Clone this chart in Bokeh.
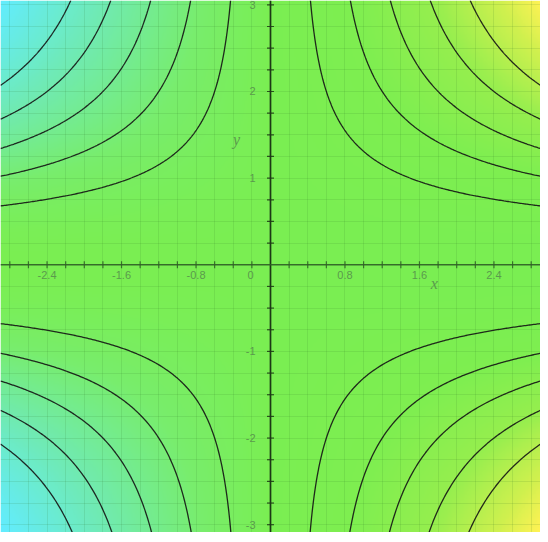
import numpy as np
from bokeh.plotting import figure
from bokeh.models import Span, SingleIntervalTicker, LinearColorMapper, Grid, Label
from bokeh.embed import file_html
from bokeh.resources import INLINE
from bokeh.core.properties import value

# ---- data ----
x_limits = [-2.9, 2.9]
y_limits = [-3.09, 3.05]
shape_a = 4.0                      # f(x, y) = x*y^2/(a + y^2)
contour_levels = [-1.5, -1.2, -0.9, -0.6, -0.3, 0.3, 0.6, 0.9, 1.2, 1.5]
x_tick_values = [-2.4, -1.6, -0.8, 0.8, 1.6, 2.4]
x_tick_labels = ["-2.4", "-1.6", "-0.8", "0.8", "1.6", "2.4"]
y_tick_values = [-3, -2, -1, 1, 2, 3]
y_tick_labels = ["-3", "-2", "-1", "1", "2", "3"]
x_minor_step = 0.2
y_minor_step = 0.25
color_stops = [-1.0, -0.6, -0.25, 0.0, 0.3, 0.6, 0.85, 1.0]
color_rgb = [(98, 236, 255), (112, 234, 176), (120, 237, 108), (122, 238, 82),
             (126, 238, 80), (150, 238, 78), (208, 240, 78), (255, 242, 84)]

# ---- field ----
nx, ny = 400, 420
xs = np.linspace(x_limits[0], x_limits[1], nx)
ys = np.linspace(y_limits[0], y_limits[1], ny)
X, Y = np.meshgrid(xs, ys)
Z = X * Y**2 / (shape_a + Y**2)
zmax = float(np.abs(Z).max())

# palette
t = np.linspace(-1, 1, 256)
r = np.interp(t, color_stops, [c[0] for c in color_rgb])
g = np.interp(t, color_stops, [c[1] for c in color_rgb])
b = np.interp(t, color_stops, [c[2] for c in color_rgb])
palette = ["#%02x%02x%02x" % (int(round(a)), int(round(bb)), int(round(c))) for a, bb, c in zip(r, g, b)]
mapper = LinearColorMapper(palette=palette, low=-zmax, high=zmax)

p = figure(width=540, height=532, x_range=tuple(x_limits), y_range=tuple(y_limits),
           x_axis_type=None, y_axis_type=None, toolbar_location=None,
           output_backend="svg", min_border=0)
p.outline_line_color = None

img = p.image(image=[Z], x=x_limits[0], y=y_limits[0], dw=x_limits[1] - x_limits[0],
              dh=y_limits[1] - y_limits[0], color_mapper=mapper)
img.level = "image"

# grid
gx = Grid(dimension=0, ticker=SingleIntervalTicker(interval=x_minor_step),
          grid_line_color="#2a6a20", grid_line_alpha=0.12, grid_line_width=1)
gy = Grid(dimension=1, ticker=SingleIntervalTicker(interval=y_minor_step),
          grid_line_color="#2a6a20", grid_line_alpha=0.12, grid_line_width=1)
p.add_layout(gx)
p.add_layout(gy)

# contours
p.contour(x=xs, y=ys, z=Z, levels=contour_levels, line_color="#141414", line_width=1.3, line_alpha=0.9)

# axes lines
p.add_layout(Span(location=0, dimension="height", line_color="#1c3815", line_width=1.7))
p.add_layout(Span(location=0, dimension="width", line_color="#2f5f26", line_width=1.5, line_alpha=0.9))

# ticks
xt = np.round(np.arange(-2.8, 2.81, x_minor_step), 3)
xt = xt[np.abs(xt) > 1e-9]
yt = np.round(np.arange(-3.0, 3.01, y_minor_step), 3)
yt = yt[np.abs(yt) > 1e-9]
p.scatter(x=xt, y=np.zeros_like(xt), marker="dash", angle=np.pi / 2, size=7,
          line_color="#2f5f26", line_width=1.2, line_alpha=0.85)
p.scatter(x=np.zeros_like(yt), y=yt, marker="dash", size=7,
          line_color="#1c3815", line_width=1.2, line_alpha=0.85)

lab_col = "#5b9a4d"
p.text(x=x_tick_values, y=[0] * len(x_tick_values), text=x_tick_labels, y_offset=6,
       text_align="center", text_baseline="top", text_font=value("Liberation Sans"),
       text_font_size="11px", text_color=lab_col)
p.text(x=[0], y=[0], text=["0"], x_offset=-20, y_offset=6,
       text_align="center", text_baseline="top", text_font=value("Liberation Sans"),
       text_font_size="11px", text_color=lab_col)
p.text(x=[0] * len(y_tick_values), y=y_tick_values, text=y_tick_labels, x_offset=-15,
       text_align="right", text_baseline="middle", text_font=value("Liberation Sans"),
       text_font_size="11px", text_color=lab_col)

p.add_layout(Label(x=1.76, y=0, y_offset=-27, text="x", text_align="center",
                   text_font="Liberation Serif", text_font_style="italic",
                   text_font_size="16px", text_color=lab_col))
p.add_layout(Label(x=0, y=1.45, x_offset=-34, text="y", text_align="center",
                   text_baseline="middle", text_font="Liberation Serif",
                   text_font_style="italic", text_font_size="16px", text_color=lab_col))

open("out.html", "w").write(file_html(p, INLINE))
